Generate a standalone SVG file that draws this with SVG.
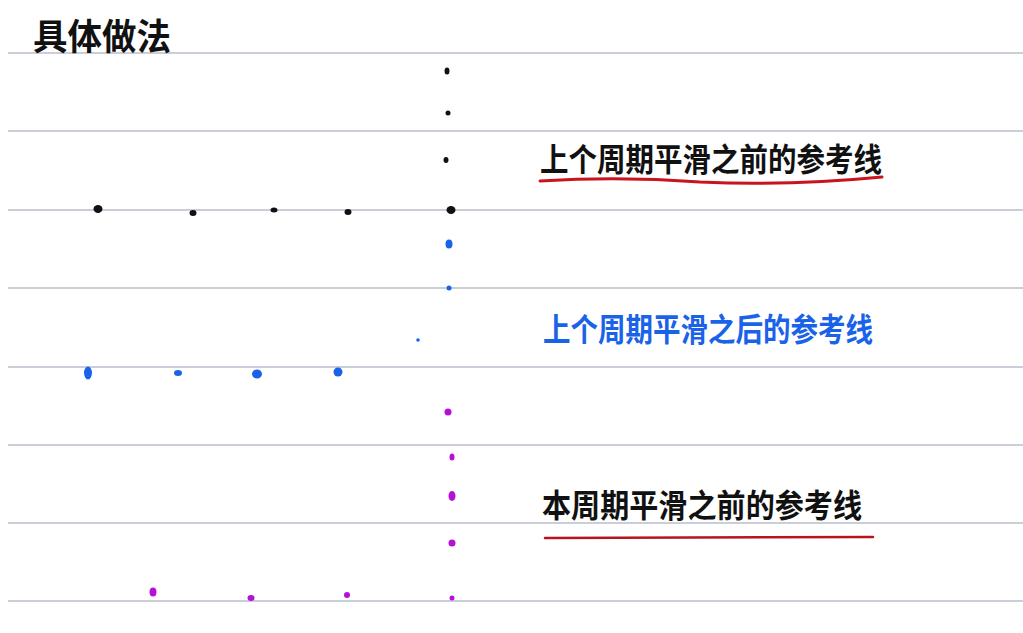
<svg xmlns="http://www.w3.org/2000/svg" width="1023" height="633" viewBox="0 0 1023 633">
<style>
.rule{stroke:#c9ced9;stroke-width:2}
.t{font-family:"Noto Sans CJK SC","Noto Sans CJK JP",sans-serif;font-weight:bold;font-size:32px}
.k{fill:#111}
.b{fill:#1a63e8}
.m{fill:#b410d8}
</style>
<rect width="1023" height="633" fill="#ffffff"/>
<g id="rules">
<line class="rule" x1="8" y1="53" x2="1023" y2="53"/>
<line class="rule" x1="8" y1="131" x2="1023" y2="131"/>
<line class="rule" x1="8" y1="210" x2="1023" y2="210"/>
<line class="rule" x1="8" y1="288" x2="1023" y2="288"/>
<line class="rule" x1="8" y1="367" x2="1023" y2="367"/>
<line class="rule" x1="8" y1="445" x2="1023" y2="445"/>
<line class="rule" x1="8" y1="523" x2="1023" y2="523"/>
<line class="rule" x1="8" y1="601" x2="1023" y2="601"/>
</g>
<g id="title"><text class="t k" x="33" y="50" style="font-size:36px" textLength="138" lengthAdjust="spacingAndGlyphs">具体做法</text></g>
<g id="label-prev-before">
<text class="t k" x="540" y="171" textLength="342" lengthAdjust="spacingAndGlyphs">上个周期平滑之前的参考线</text>
<path d="M540,181 Q620,176 700,182 Q790,186 882,177" fill="none" stroke="#c8141c" stroke-width="3" stroke-linecap="round"/>
</g>
<g id="label-prev-after"><text class="t b" x="543" y="341" textLength="330" lengthAdjust="spacingAndGlyphs">上个周期平滑之后的参考线</text></g>
<g id="label-cur-before">
<text class="t k" x="542" y="517" textLength="320" lengthAdjust="spacingAndGlyphs">本周期平滑之前的参考线</text>
<line x1="545" y1="538" x2="873" y2="537" stroke="#b8141c" stroke-width="2.5" stroke-linecap="round"/>
</g>
<g id="black-dots" class="k">
<ellipse cx="98" cy="209" rx="4.5" ry="4"/>
<ellipse cx="193" cy="213" rx="3.5" ry="3"/>
<ellipse cx="274" cy="210" rx="3.5" ry="2.5"/>
<ellipse cx="348" cy="212" rx="3.5" ry="3"/>
<ellipse cx="447" cy="71" rx="2.5" ry="3.5"/>
<ellipse cx="448" cy="113" rx="2.5" ry="2.5"/>
<ellipse cx="446" cy="160" rx="2.5" ry="3"/>
<ellipse cx="451" cy="210" rx="4.5" ry="4"/>
</g>
<g id="blue-dots" class="b">
<ellipse cx="449" cy="244" rx="3.5" ry="4.5"/>
<ellipse cx="449" cy="288" rx="2.5" ry="2.5"/>
<ellipse cx="418" cy="340" rx="1.8" ry="1.8"/>
<ellipse cx="88" cy="373" rx="4" ry="6.5"/>
<ellipse cx="178" cy="373" rx="4" ry="3"/>
<ellipse cx="257" cy="374" rx="5" ry="4.5"/>
<ellipse cx="338" cy="372" rx="4.5" ry="4.5"/>
</g>
<g id="magenta-dots" class="m">
<ellipse cx="448" cy="412" rx="3.5" ry="3.5"/>
<ellipse cx="452" cy="457" rx="2.5" ry="3.5"/>
<ellipse cx="452" cy="496" rx="3.5" ry="5"/>
<ellipse cx="452" cy="543" rx="3.5" ry="3.5"/>
<ellipse cx="452" cy="598" rx="2.5" ry="2.5"/>
<ellipse cx="153" cy="592" rx="3.5" ry="4.5"/>
<ellipse cx="251" cy="598" rx="3.5" ry="3"/>
<ellipse cx="347" cy="595" rx="3" ry="3"/>
</g>
</svg>
